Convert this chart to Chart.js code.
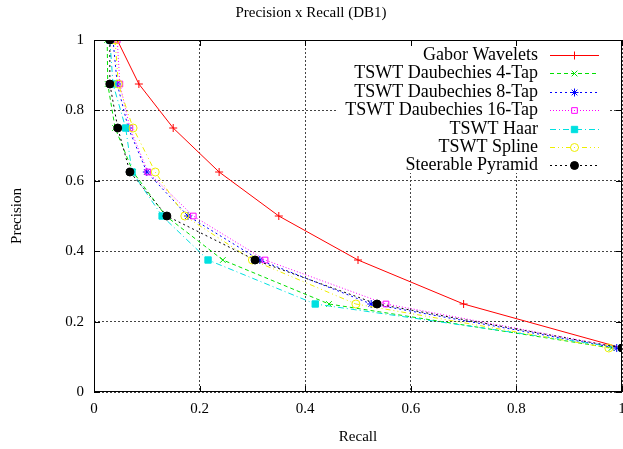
<!DOCTYPE html>
<html>
<head>
<meta charset="utf-8">
<script src="https://cdn.jsdelivr.net/npm/chart.js@4"></script>
<style>
    html, body { margin: 0; padding: 0; background: #fff; overflow: hidden; }
    #wrap { position: relative; width: 623px; height: 449px; }
    canvas { display: block; }
</style>
</head>
<body>
<div id="wrap"><canvas id="prChart"></canvas></div>
<script>
// precision levels shared by all curves
const precision = [1, 0.875, 0.75, 0.625, 0.5, 0.375, 0.25, 0.125];

// recall values, one list per method
const recallGabor     = [0.044, 0.085, 0.150, 0.237, 0.350, 0.500, 0.700, 1.000];
const recallDaub4     = [0.025, 0.026, 0.040, 0.074, 0.136, 0.244, 0.445, 0.980];
const recallDaub8     = [0.036, 0.044, 0.065, 0.100, 0.178, 0.314, 0.525, 0.990];
const recallDaub16    = [0.044, 0.049, 0.068, 0.102, 0.188, 0.324, 0.553, 1.000];
const recallHaar      = [0.030, 0.036, 0.060, 0.072, 0.129, 0.216, 0.419, 1.000];
const recallSpline    = [0.040, 0.046, 0.074, 0.116, 0.172, 0.300, 0.496, 0.975];
const recallSteerable = [0.030, 0.030, 0.045, 0.068, 0.138, 0.305, 0.536, 1.000];

const methodNames = [
    'Gabor Wavelets',
    'TSWT Daubechies 4-Tap',
    'TSWT Daubechies 8-Tap',
    'TSWT Daubechies 16-Tap',
    'TSWT Haar',
    'TSWT Spline',
    'Steerable Pyramid'
];

const tickValues = [0, 0.2, 0.4, 0.6, 0.8, 1];

const serif = "'Liberation Serif', 'DejaVu Serif', serif";

function toPoints(recall) {
    return recall.map((r, i) => ({ x: r, y: precision[i] }));
}

const styles = [
    { color: '#ff0000', dash: [],              point: 'cross',    fill: false, radius: 4 },
    { color: '#00e000', dash: [4, 3],          point: 'crossRot', fill: false, radius: 4 },
    { color: '#0000ff', dash: [2, 3],          point: 'star',     fill: false, radius: 4 },
    { color: '#ff00ff', dash: [1, 2],          point: 'rect',     fill: false, radius: 4 },
    { color: '#00e0e0', dash: [6, 3, 1, 3],    point: 'rect',     fill: true,  radius: 4.5 },
    { color: '#eeee00', dash: [5, 3, 1, 3, 1, 3], point: 'circle', fill: false, radius: 4 },
    { color: '#000000', dash: [2, 3],          point: 'circle',   fill: true,  radius: 4 }
];

const allRecall = [recallGabor, recallDaub4, recallDaub8, recallDaub16, recallHaar, recallSpline, recallSteerable];

const datasets = allRecall.map((rec, i) => ({
    label: methodNames[i],
    data: toPoints(rec),
    borderColor: styles[i].color,
    borderWidth: 1,
    borderDash: styles[i].dash,
    pointStyle: styles[i].point,
    pointRadius: styles[i].radius,
    pointBorderWidth: 1,
    pointBorderColor: styles[i].color,
    pointBackgroundColor: styles[i].fill ? styles[i].color : 'rgba(0,0,0,0)',
    fill: false,
    tension: 0,
    order: allRecall.length - i // later series drawn on top, like gnuplot
}));

// frame, inward ticks and the in-plot legend, gnuplot style
const framePlugin = {
    id: 'frame',
    afterDatasetsDraw(chart) {
        const ctx = chart.ctx;
        const a = chart.chartArea;
        const xs = chart.scales.x, ys = chart.scales.y;
        ctx.save();

        // opaque key box hides the grid behind the legend
        ctx.fillStyle = '#fff';
        ctx.fillRect(a.right - 284, a.top + 1, 270, 132);

        ctx.strokeStyle = '#000';
        ctx.lineWidth = 1;
        ctx.setLineDash([]);
        ctx.strokeRect(a.left + 0.5, a.top + 0.5, a.right - a.left - 1, a.bottom - a.top - 1);
        ctx.beginPath();
        tickValues.forEach(v => {
            const px = Math.round(xs.getPixelForValue(v)) + 0.5;
            const py = Math.round(ys.getPixelForValue(v)) + 0.5;
            ctx.moveTo(px, a.bottom); ctx.lineTo(px, a.bottom - 6);
            ctx.moveTo(px, a.top);    ctx.lineTo(px, a.top + 6);
            ctx.moveTo(a.left, py);   ctx.lineTo(a.left + 6, py);
            ctx.moveTo(a.right, py);  ctx.lineTo(a.right - 6, py);
        });
        ctx.stroke();

        // legend
        const textRight = a.right - 84;
        const lineL = a.right - 72, lineR = a.right - 23;
        ctx.font = '18px ' + serif;
        ctx.textAlign = 'right';
        ctx.textBaseline = 'middle';
        methodNames.forEach((name, i) => {
            const st = styles[i];
            const y = Math.round(a.top + 15 + i * 18.4) + 0.5;
            ctx.fillStyle = '#000';
            ctx.fillText(name, textRight, y);
            ctx.strokeStyle = st.color;
            ctx.lineWidth = 1;
            ctx.setLineDash(st.dash);
            ctx.beginPath();
            ctx.moveTo(lineL, y);
            ctx.lineTo(lineR, y);
            ctx.stroke();
            ctx.setLineDash([]);
            ctx.fillStyle = st.fill ? st.color : 'rgba(0,0,0,0)';
            ctx.strokeStyle = st.color;
            Chart.helpers.drawPoint(ctx, {
                pointStyle: st.point, radius: st.radius, rotation: 0, borderWidth: 1
            }, (lineL + lineR) / 2, y);
        });
        ctx.restore();
    }
};

const ctxPR = document.getElementById('prChart').getContext('2d');

const prChart = new Chart(ctxPR, {
    type: 'line',
    data: { datasets: datasets },
    options: {
        responsive: true,
        maintainAspectRatio: false,
        animation: false,
        layout: { autoPadding: false, padding: { left: 0, right: 1, top: 0, bottom: 0 } },
        plugins: {
            legend: { display: false },
            tooltip: { enabled: false },
            title: {
                display: true,
                text: 'Precision x Recall (DB1)',
                color: '#000',
                font: { family: serif, size: 15, weight: 'normal' },
                padding: { top: 4, bottom: 18 }
            }
        },
        scales: {
            x: {
                type: 'linear',
                min: 0,
                max: 1,
                afterBuildTicks: s => { s.ticks = tickValues.map(v => ({ value: v })); },
                afterFit: s => {
                    s.height = 57;
                    // let the "1" label run to the canvas edge like the original
                    s.paddingLeft = 0;
                    s.paddingRight = 0;
                },
                ticks: {
                    color: '#000',
                    font: { family: serif, size: 15 },
                    padding: 8,
                    maxRotation: 0,
                    callback: v => String(v)
                },
                grid: { color: '#444', drawTicks: false, lineWidth: 1 },
                border: { display: false, dash: [2, 2] },
                title: {
                    display: true,
                    text: 'Recall',
                    color: '#000',
                    font: { family: serif, size: 15 },
                    padding: { top: 0, bottom: 3 }
                }
            },
            y: {
                type: 'linear',
                min: 0,
                max: 1,
                afterBuildTicks: s => { s.ticks = tickValues.map(v => ({ value: v })); },
                afterFit: s => { s.width = 94; },
                ticks: {
                    color: '#000',
                    font: { family: serif, size: 15 },
                    padding: 10,
                    callback: v => String(v)
                },
                grid: { color: '#444', drawTicks: false, lineWidth: 1 },
                border: { display: false, dash: [2, 2] },
                title: {
                    display: true,
                    text: 'Precision',
                    color: '#000',
                    font: { family: serif, size: 15 },
                    padding: { top: 8, bottom: 0 }
                }
            }
        }
    },
    plugins: [framePlugin]
});
</script>
</body>
</html>
